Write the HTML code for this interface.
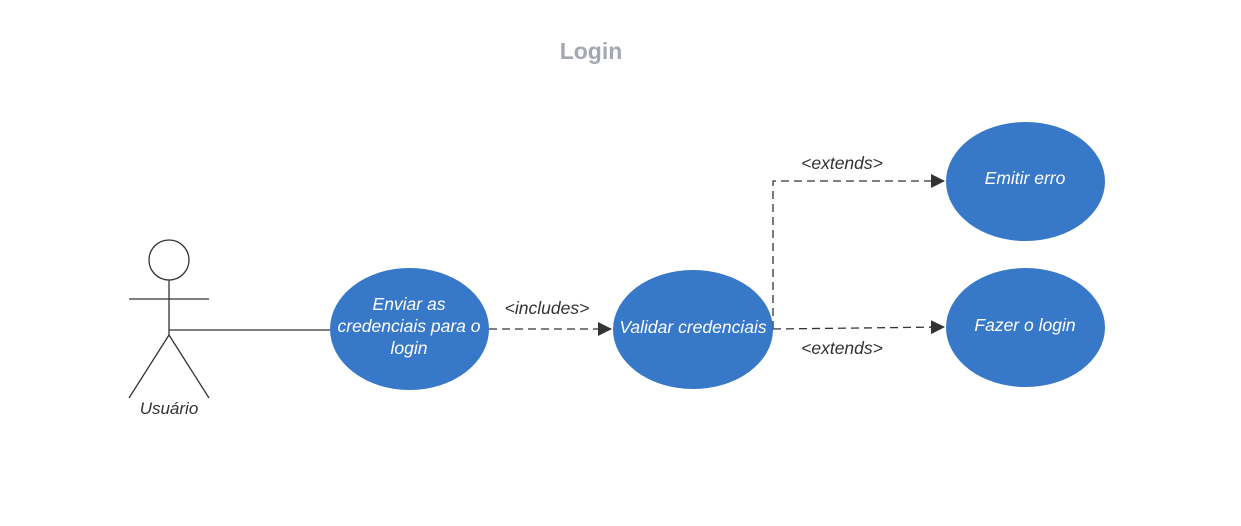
<!DOCTYPE html>
<html><head><meta charset="utf-8"><style>
body{margin:0;background:#fff;}
svg{display:block}
text{font-family:"Liberation Sans",sans-serif;}
</style></head><body>
<svg width="1241" height="526" viewBox="0 0 1241 526">
<defs><marker id="a" markerWidth="14" markerHeight="14" refX="13" refY="7" orient="auto" markerUnits="userSpaceOnUse"><path d="M0,0 L14,7 L0,14 z" fill="#333"/></marker></defs>
<text x="591" y="59" text-anchor="middle" font-size="23" font-weight="bold" fill="#a3a8b3">Login</text>
<g stroke="#333" stroke-width="1.3" fill="none">
<circle cx="169" cy="260" r="20"/>
<line x1="169" y1="280" x2="169" y2="335"/>
<line x1="129" y1="299" x2="209" y2="299"/>
<line x1="169" y1="335" x2="129" y2="398"/>
<line x1="169" y1="335" x2="209" y2="398"/>
<line x1="169" y1="330" x2="331" y2="330"/>
</g>
<text x="169" y="414" text-anchor="middle" font-size="17" font-style="italic" fill="#333">Usuário</text>
<g stroke="#333" stroke-width="1.3" fill="none" stroke-dasharray="8,5">
<line x1="489" y1="329" x2="611" y2="329" marker-end="url(#a)"/>
<polyline points="773,329 773,181 944,181" marker-end="url(#a)"/>
<line x1="773" y1="329" x2="944" y2="327" marker-end="url(#a)"/>
</g>
<g fill="#3778c9">
<ellipse cx="409.5" cy="329" rx="79.5" ry="61"/>
<ellipse cx="693" cy="329.5" rx="80" ry="59.5"/>
<ellipse cx="1025.5" cy="181.5" rx="79.5" ry="59.5"/>
<ellipse cx="1025.5" cy="327.5" rx="79.5" ry="59.5"/>
</g>
<g font-size="17.5" font-style="italic" fill="#fff" text-anchor="middle">
<text x="409" y="310">Enviar as</text>
<text x="409" y="332">credenciais para o</text>
<text x="409" y="354">login</text>
<text x="693" y="333">Validar credenciais</text>
<text x="1025" y="184">Emitir erro</text>
<text x="1025" y="331">Fazer o login</text>
</g>
<g font-size="17.5" font-style="italic" fill="#333" text-anchor="middle">
<text x="547" y="314">&lt;includes&gt;</text>
<text x="842" y="169">&lt;extends&gt;</text>
<text x="842" y="354">&lt;extends&gt;</text>
</g>
</svg>
</body></html>
